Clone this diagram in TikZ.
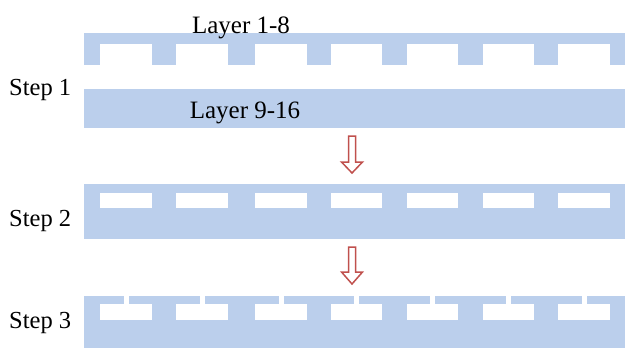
\documentclass[tikz,border=0pt]{standalone}
\usepackage{fontspec}
\setmainfont{Liberation Serif}
\definecolor{layerblue}{RGB}{187,207,236}
\definecolor{arrowred}{RGB}{192,80,77}
\tikzset{
  steplabel/.style={anchor=base west,inner sep=0pt,font=\fontsize{24.5}{28}\selectfont},
  layerlabel/.style={anchor=base,inner sep=0pt,font=\fontsize{25}{28}\selectfont},
  hollowarrow/.style={draw=arrowred,fill=white,line width=1.5pt,line join=miter}
}
\begin{document}
\begin{tikzpicture}[x=1pt,y=-1pt]
		\useasboundingbox (0,0) rectangle (625,349);
		% Step 1: comb layer and plain layer
		\fill[layerblue] (84,33) rectangle (625,65);
		\foreach \a/\b in {100/152,176/228,255/307,331/382,407/458,483/534,558/610}
			\fill[white] (\a,44) rectangle (\b,65.5);
		\fill[layerblue] (84,89) rectangle (625,128);
		\node[layerlabel](L1) at (241,33) {Layer 1-8};
		\node[layerlabel](L2) at (245,118) {Layer 9-16};
		\node[steplabel](S1) at (9,95) {Step 1};
		% arrow 1
		\draw[hollowarrow] (348.5,136) -- (355.5,136) -- (355.5,162) -- (362.5,162) -- (352,173)
			-- (341.5,162) -- (348.5,162) -- cycle;
		% Step 2: closed channels
		\fill[layerblue] (84,184) rectangle (625,239);
		\foreach \a/\b in {100/152,176/228,255/307,331/382,407/458,483/534,558/610}
			\fill[white] (\a,193) rectangle (\b,208);
		\node[steplabel](S2) at (9,226) {Step 2};
		% arrow 2
		\draw[hollowarrow] (348.5,247) -- (355.5,247) -- (355.5,272) -- (362.5,272) -- (352,284)
			-- (341.5,272) -- (348.5,272) -- cycle;
		% Step 3: channels with slits
		\fill[layerblue] (84,296) rectangle (625,348);
		\foreach \a/\b in {100/152,176/228,255/307,331/382,407/458,483/534,558/610}{
			\fill[white] (\a,304) rectangle (\b,320);
			\fill[white] ({(\a+\b)/2-2.5},295.5) rectangle ({(\a+\b)/2+2.5},304.5);
		}
		\node[steplabel](S3) at (9,328) {Step 3};
\end{tikzpicture}
\end{document}
